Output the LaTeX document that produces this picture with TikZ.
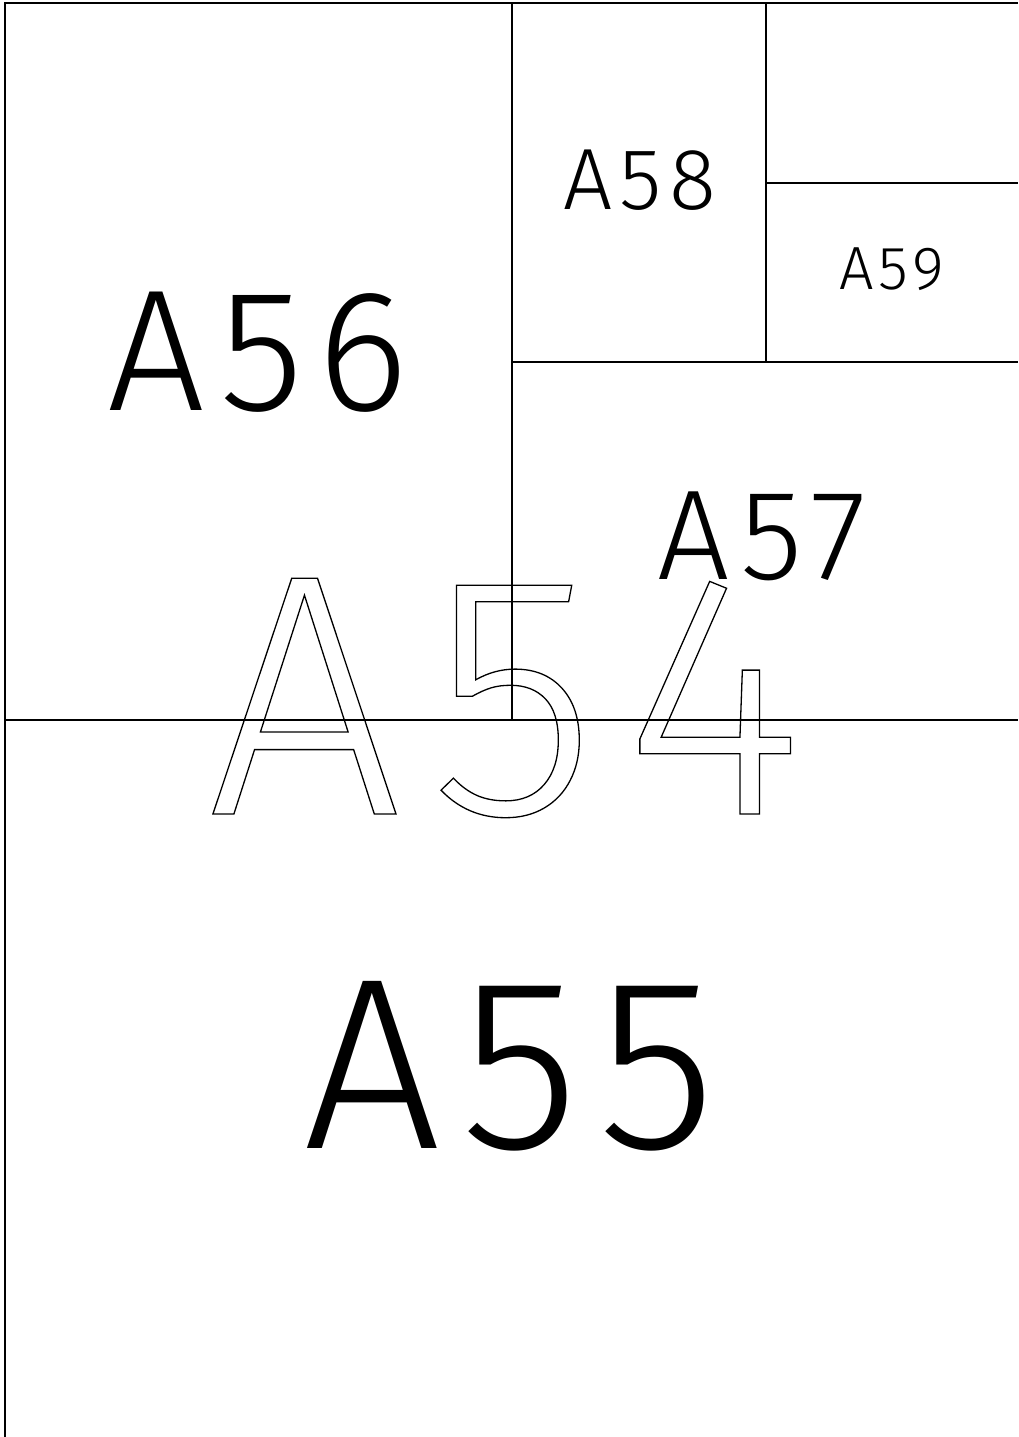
\documentclass[tikz,border=0pt]{standalone}
\usepackage{fontspec}
\setmainfont{Fira Sans}[UprightFont=* Light, LetterSpace=8]
\newcommand{\outlineon}{\special{pdf:literal direct 1 Tr 1.3 w}}
\newcommand{\outlineoff}{\special{pdf:literal direct 0 Tr}}
\begin{document}
\begin{tikzpicture}[x=1pt,y=-1pt,
  rule/.style={line width=1.4pt, black},
  lbl/.style={inner sep=0pt, anchor=center, text=black}]
\useasboundingbox (0,0) rectangle (1018,1437);
% frame and divisions
\draw[rule] (5,1437) -- (5,3) -- (1018,3);
\draw[rule] (5,720) -- (1018,720);
\draw[rule] (512,3) -- (512,720);
\draw[rule] (512,362) -- (1018,362);
\draw[rule] (766,3) -- (766,362);
\draw[rule] (766,183) -- (1018,183);
% labels
\node[lbl, font=\fontsize{173}{173}\selectfont] (a56) at (258,352) {A56};
\node[lbl, font=\fontsize{244}{244}\selectfont] (a55) at (510,1066) {A55};
\node[lbl, font=\fontsize{128}{128}\selectfont] (a57) at (762,536) {A57};
\node[lbl, font=\fontsize{87}{87}\selectfont] (a58) at (640,180) {A58};
\node[lbl, font=\fontsize{61}{61}\selectfont] (a59) at (892,269) {A59};
\node[lbl, font=\fontsize{344}{344}\selectfont] (a54) at (505,698) {\outlineon A54\outlineoff};
\end{tikzpicture}
\end{document}
